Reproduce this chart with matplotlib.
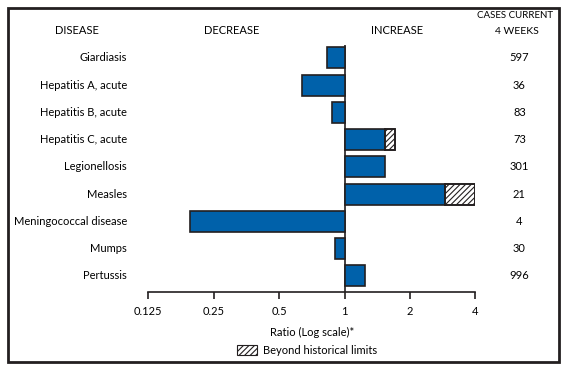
import matplotlib.pyplot as plt
from matplotlib.patches import Rectangle

plt.rcParams['font.family'] = ['Lato', 'DejaVu Sans']
plt.rcParams['hatch.color'] = '#9a9a9a'
plt.rcParams['hatch.linewidth'] = 0.8

diseases = ['Giardiasis', 'Hepatitis A, acute', 'Hepatitis B, acute',
            'Hepatitis C, acute', 'Legionellosis', 'Measles',
            'Meningococcal disease', 'Mumps', 'Pertussis']
ratios = [0.835, 0.64, 0.88, 1.54, 1.54, 2.91, 0.194, 0.90, 1.24]
beyond = [None, None, None, 1.70, None, 4.0, None, None, None]
cases = [597, 36, 83, 73, 301, 21, 4, 30, 996]
ticks = [0.125, 0.25, 0.5, 1, 2, 4]
tick_labels = ['0.125', '0.25', '0.5', '1', '2', '4']

blue = '#0061aa'
edge = '#231f20'
fs = 8

fig = plt.figure(figsize=(5.68, 3.67), dpi=100)
ax = fig.add_axes([0.2611, 0.2035, 0.5757, 0.6738])

for i, r in enumerate(ratios):
    left = min(r, 1)
    width = max(r, 1) - left
    ax.barh(i, width, left=left, height=0.77, color=blue, edgecolor=edge, linewidth=1.2)
    if beyond[i] is not None:
        # hatched part beyond historical limits
        ax.barh(i, beyond[i] - r, left=r, height=0.77, color='white',
                edgecolor=edge, linewidth=1.2, hatch='//////')
        ax.barh(i, beyond[i] - r, left=r, height=0.77, color='none',
                edgecolor=edge, linewidth=1.2)

ax.set_xscale('log', base=2)
ax.set_xlim(0.125, 4)
ax.set_ylim(8.6, -0.47)
ax.axvline(1, color=edge, linewidth=1.2, zorder=0)
ax.set_xticks(ticks)
ax.set_xticklabels(tick_labels)
ax.minorticks_off()
ax.set_yticks([])
for s in ['top', 'right', 'left']:
    ax.spines[s].set_visible(False)
ax.spines['bottom'].set_linewidth(1.2)
ax.spines['bottom'].set_color(edge)
ax.tick_params(axis='x', length=5, width=1.2, color=edge, labelsize=fs, pad=5)

for i, name in enumerate(diseases):
    ax.text(-0.065, i, name, transform=ax.get_yaxis_transform(), ha='right',
            va='center', fontsize=fs)
    ax.text(1.135, i, str(cases[i]), transform=ax.get_yaxis_transform(), ha='center',
            va='center', fontsize=fs)

fig.text(77 / 568, 1 - 31 / 367, 'DISEASE', ha='center', va='center', fontsize=fs)
fig.text(232 / 568, 1 - 31 / 367, 'DECREASE', ha='center', va='center', fontsize=fs)
fig.text(397 / 568, 1 - 31 / 367, 'INCREASE', ha='center', va='center', fontsize=fs)
fig.text(515 / 568, 1 - 16 / 367, 'CASES CURRENT', ha='center', va='center', fontsize=7)
fig.text(517 / 568, 1 - 31 / 367, '4 WEEKS', ha='center', va='center', fontsize=7.5)

fig.text(312 / 568, 1 - 332 / 367, 'Ratio (Log scale)*', ha='center', va='center', fontsize=fs)
fig.patches.append(Rectangle((237 / 568, 1 - 355 / 367), 20 / 568, 10 / 367,
                             transform=fig.transFigure, facecolor='white',
                             edgecolor=edge, linewidth=0.8, hatch='//////'))
fig.text(263 / 568, 1 - 350 / 367, 'Beyond historical limits', ha='left', va='center', fontsize=fs)

# outer frame
fig.patches.append(Rectangle((8 / 568, 1 - 362 / 367), 551 / 568, 354 / 367,
                             transform=fig.transFigure, facecolor='none',
                             edgecolor=edge, linewidth=2))

fig.savefig('out.png', dpi=100)
